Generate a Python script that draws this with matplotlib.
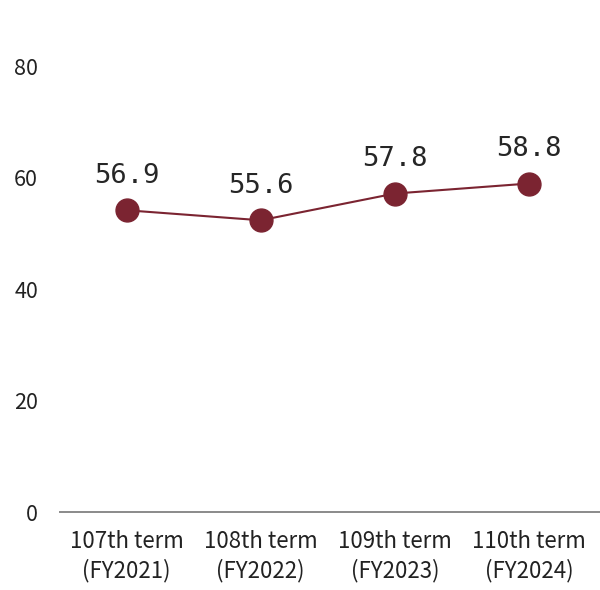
import matplotlib
matplotlib.use("Agg")
import matplotlib.pyplot as plt

categories = ["107th term\n(FY2021)", "108th term\n(FY2022)", "109th term\n(FY2023)", "110th term\n(FY2024)"]
plotted_values = [54.2, 52.4, 57.2, 59.0]
label_values = ["56.9", "55.6", "57.8", "58.8"]
y_ticks = [0, 20, 40, 60, 80]

color = "#7b2431"

fig = plt.figure(figsize=(6.0, 5.9), dpi=100)
ax = fig.add_axes([0.0992, 0.1322, 0.894, 0.7549])

x = list(range(len(categories)))
ax.plot(x, plotted_values, color=color, lw=1.5, marker="o", markersize=16.5,
        markerfacecolor=color, markeredgecolor=color, zorder=3)

for xi, yi, lab in zip(x, plotted_values, label_values):
    ax.annotate(lab, (xi, yi), xytext=(0, 19.5), textcoords="offset points",
                ha="center", va="baseline", fontsize=19.5,
                family="DejaVu Sans Mono", color="#262626")

ax.set_xlim(-0.5, 3.5)
ax.set_ylim(0, 80)
ax.set_xticks(x)
ax.set_xticklabels(categories, family="Noto Sans CJK JP", fontsize=16,
                   color="#222222", linespacing=1.32)
ax.set_yticks(y_ticks)
ax.set_yticklabels([str(v) for v in y_ticks], family="Noto Sans CJK JP",
                   fontsize=15.5, color="#222222")
ax.tick_params(axis="both", length=0)
ax.tick_params(axis="y", pad=15.5)
ax.tick_params(axis="x", pad=13)

for s in ["top", "right", "left"]:
    ax.spines[s].set_visible(False)
ax.spines["bottom"].set_color("#8a8a8a")
ax.spines["bottom"].set_linewidth(1.4)
ax.spines["bottom"].set_bounds(-0.5, 3.535)

fig.savefig("out.png", dpi=100)
